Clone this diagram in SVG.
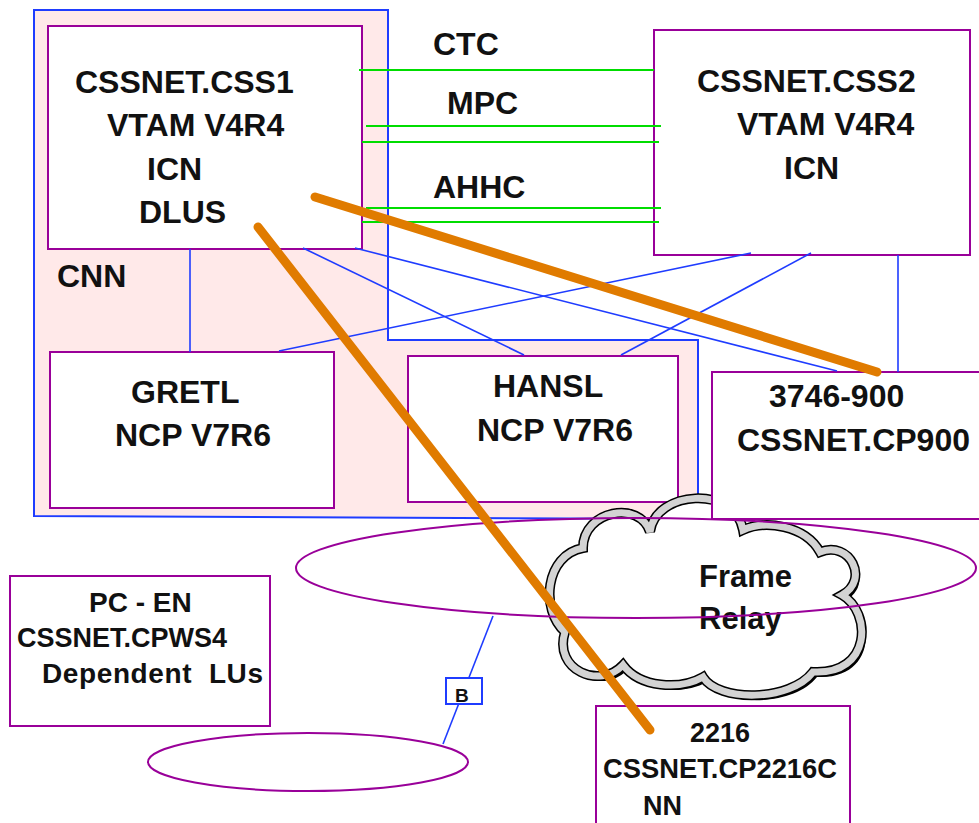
<svg xmlns="http://www.w3.org/2000/svg" width="979" height="823" viewBox="0 0 979 823">
<style>
.box{fill:#fff;stroke:#990099;stroke-width:2}
.t{font-family:"Liberation Sans",Arial,sans-serif;font-weight:bold;font-size:32px;fill:#111}
.ts{font-size:28px}
.g{stroke:#00dd00;stroke-width:2}
.b{stroke:#1f3cff;stroke-width:1.6;fill:none}
.o{stroke:#e07b00;stroke-width:9;stroke-linecap:round}
</style>
<defs>
<path id="cloud" d="M650,532 C655,490 735,485 743,530 C765,520 805,525 820,552 C850,540 870,580 842,595 C872,612 872,675 813,672 C790,702 718,702 703,677 C680,690 640,688 623,665 C600,690 553,670 565,632 C540,610 545,555 583,548 C583,510 640,500 650,532 Z"/>
</defs>
<rect width="979" height="823" fill="#fff"/>
<g id="cnn">
<path d="M34,10 L388,10 L388,340 L698,340 L698,519 L34,516 Z" fill="#ffe9e9" stroke="#1f3cff" stroke-width="2"/>
<text class="t" x="57" y="287">CNN</text>
</g>
<g id="css1">
<rect class="box" x="48" y="26" width="314" height="223"/>
<text class="t" x="75" y="93">CSSNET.CSS1</text>
<text class="t" x="107" y="136">VTAM V4R4</text>
<text class="t" x="147" y="180">ICN</text>
<text class="t" x="139" y="223">DLUS</text>
</g>
<g id="css2">
<rect class="box" x="654" y="30" width="316" height="225"/>
<text class="t" x="697" y="92">CSSNET.CSS2</text>
<text class="t" x="737" y="135">VTAM V4R4</text>
<text class="t" x="784" y="179">ICN</text>
</g>
<g id="gretl">
<rect class="box" x="50" y="352" width="284" height="156"/>
<text class="t" x="131" y="403">GRETL</text>
<text class="t" x="115" y="446">NCP V7R6</text>
</g>
<g id="hansl">
<rect class="box" x="408" y="356" width="270" height="146"/>
<text class="t" x="493" y="397">HANSL</text>
<text class="t" x="477" y="441">NCP V7R6</text>
</g>
<g id="frame-relay">
<use href="#cloud" transform="translate(4,5)" fill="#000"/>
<use href="#cloud" fill="#fff" stroke="#000" stroke-width="10" stroke-linejoin="miter"/>
<use href="#cloud" fill="none" stroke="#d3d3d3" stroke-width="7"/>
<text class="t" x="699" y="587" style="font-size:31px">Frame</text>
<text class="t" x="699" y="629" style="font-size:31px">Relay</text>
</g>
<g id="cp900">
<rect class="box" x="712" y="372" width="270" height="147"/>
<text class="t" x="769" y="407">3746-900</text>
<text class="t" x="737" y="451">CSSNET.CP900</text>
</g>
<g id="lan1">
<ellipse cx="636" cy="568" rx="340" ry="50" fill="none" stroke="#990099" stroke-width="2"/>
</g>
<g id="pcen">
<rect class="box" x="10" y="576" width="260" height="150"/>
<text class="t ts" x="89" y="612">PC - EN</text>
<text class="t ts" x="17" y="647" textLength="210" lengthAdjust="spacingAndGlyphs">CSSNET.CPWS4</text>
<text class="t ts" x="42" y="683" xml:space="preserve" textLength="221">Dependent  LUs</text>
</g>
<g id="lan2">
<ellipse cx="308" cy="762" rx="160" ry="29" fill="none" stroke="#990099" stroke-width="2"/>
</g>
<g id="cp2216">
<rect class="box" x="596" y="706" width="254" height="130"/>
<text class="t" x="690" y="742" style="font-size:27px">2216</text>
<text class="t" x="603" y="778" style="font-size:27px" textLength="234" lengthAdjust="spacingAndGlyphs">CSSNET.CP2216C</text>
<text class="t" x="643" y="815" style="font-size:27px">NN</text>
</g>
<g id="connectors">
<line class="g" x1="359" y1="70" x2="654" y2="70"/>
<line class="g" x1="366" y1="126" x2="661" y2="126"/>
<line class="g" x1="362" y1="142" x2="659" y2="142"/>
<line class="g" x1="366" y1="208" x2="661" y2="208"/>
<line class="g" x1="362" y1="222" x2="659" y2="222"/>
<text class="t" x="433" y="55">CTC</text>
<text class="t" x="447" y="114">MPC</text>
<text class="t" x="433" y="198">AHHC</text>
<line class="b" x1="190" y1="249" x2="190" y2="352"/>
<line class="b" x1="303" y1="248" x2="524" y2="355"/>
<line class="b" x1="355" y1="248" x2="837" y2="371"/>
<line class="b" x1="751" y1="253" x2="279" y2="351"/>
<line class="b" x1="811" y1="253" x2="621" y2="355"/>
<line class="b" x1="898" y1="255" x2="898" y2="372"/>
<line class="b" x1="493" y1="616" x2="443" y2="744"/>
<rect x="446" y="678" width="36" height="26" fill="#fff" stroke="#1f3cff" stroke-width="2"/>
<text class="t" x="455" y="702" style="font-size:19px">B</text>
<line class="o" x1="315" y1="197" x2="877" y2="372"/>
<line class="o" x1="258" y1="227" x2="650" y2="730"/>
</g>
</svg>
